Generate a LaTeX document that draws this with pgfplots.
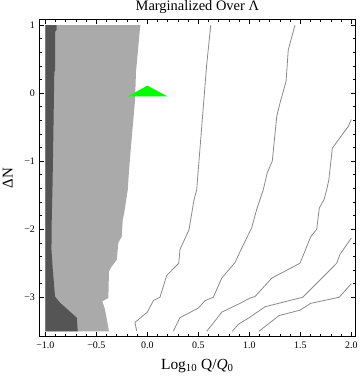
\documentclass[border=0pt]{standalone}
\usepackage{fontspec}
\setmainfont{Liberation Serif}
\usepackage{pgfplots}
\pgfplotsset{compat=1.18}
\definecolor{darkreg}{HTML}{555555}
\definecolor{lightreg}{HTML}{AAAAAA}
\definecolor{contour}{HTML}{8A8A8A}
\begin{document}
\begin{tikzpicture}
\begin{axis}[
  at={(0,0)}, anchor=south west,
  scale only axis, width=316.7bp, height=317.4bp,
  xmin=-1.062, xmax=2.043, ymin=-3.58, ymax=1.084,
  xtick={-1,-0.5,0,0.5,1,1.5,2},
  xticklabels={−1.0,−0.5,0.0,0.5,1.0,1.5,2.0},
  ytick={-3,-2,-1,0,1},
  yticklabels={−3,−2,−1,0,1},
  minor x tick num=4, minor y tick num=4,
  tick align=inside,
  major tick length=5bp, minor tick length=3bp,
  tick style={black, line width=0.5pt},
  axis line style={line width=0.6pt},
  ticklabel style={font=\fontsize{10}{12}\selectfont},
  xticklabel style={anchor=base, yshift=-11.6bp},
  yticklabel style={anchor=east, xshift=-0.5bp},
  title={Marginalized Over Λ},
  every axis title/.style={at={(axis description cs:0.5,1.0268)}, anchor=base, font=\fontsize{14.5}{16}\selectfont},
  xlabel={Log\textsubscript{10} Q/\textit{Q}\textsubscript{0}},
  xlabel style={at={(axis description cs:0.5,-0.1027)}, anchor=base, font=\fontsize{15.5}{17}\selectfont},
  ylabel={ΔN},
  ylabel style={at={(axis description cs:-0.083,0.5)}, anchor=base, font=\fontsize{15}{17}\selectfont},
  axis on top,
  clip=true,
]
% light gray region
\addplot[fill=lightreg, draw=none] coordinates {
 (-1,1) (-0.069,1.0) (-0.088,0.685) (-0.111,0.317) (-0.12,-0.1) (-0.137,-0.39)
 (-0.16,-0.78) (-0.179,-1.13) (-0.192,-1.42) (-0.225,-1.75) (-0.241,-1.86)
 (-0.251,-2.11) (-0.284,-2.20) (-0.30,-2.45) (-0.35,-2.55) (-0.376,-2.62)
 (-0.382,-3.01) (-0.441,-3.06) (-0.415,-3.18) (-0.376,-3.5) (-1,-3.5)
} -- cycle;
% dark gray region
\addplot[fill=darkreg, draw=none] coordinates {
 (-1,1) (-0.888,1.0) (-0.888,0.93) (-0.905,0.90) (-0.905,0.34) (-0.912,0.30)
 (-0.925,-0.98) (-0.93,-1.4) (-0.937,-1.86) (-0.94,-2.3) (-0.927,-2.59)
 (-0.905,-2.99) (-0.856,-3.08) (-0.692,-3.30) (-0.682,-3.5) (-1,-3.5)
} -- cycle;
% contour lines
\addplot[contour, line width=0.8pt] coordinates {
 (0.622,1.0) (0.582,0.416) (0.484,-1.42) (0.458,-1.567) (0.409,-2.007) (0.32,-2.30)
 (0.308,-2.50) (0.19,-2.68) (0.124,-3.0) (0.059,-3.05) (0.0,-3.22) (-0.121,-3.37) (-0.104,-3.50)
};
\addplot[contour, line width=0.8pt] coordinates {
 (1.448,1.0) (1.382,0.636) (1.36,0.17) (1.30,-0.15) (1.269,-0.34) (1.225,-1.0)
 (1.176,-1.17) (1.137,-1.42) (1.072,-1.71) (1.023,-1.98) (0.909,-2.33) (0.86,-2.49)
 (0.729,-2.72) (0.647,-3.0) (0.566,-3.05) (0.5,-3.16) (0.32,-3.30) (0.255,-3.5)
};
\addplot[contour, line width=0.8pt] coordinates {
 (2.0,-0.39) (1.97,-0.49) (1.814,-0.81) (1.78,-1.27) (1.759,-1.42) (1.732,-1.567) (1.686,-1.69)
 (1.661,-2.0) (1.602,-2.11) (1.497,-2.50) (1.22,-2.72) (1.056,-2.99) (1.009,-3.01)
 (0.909,-3.09) (0.729,-3.22) (0.647,-3.38) (0.582,-3.5)
};
\addplot[contour, line width=0.8pt] coordinates {
 (2.0,-2.13) (1.889,-2.37) (1.857,-2.50) (1.524,-3.0) (1.154,-3.14) (1.0,-3.30)
 (0.909,-3.38) (0.892,-3.40) (0.833,-3.5)
};
\addplot[contour, line width=0.8pt] coordinates {
 (2.0,-2.80) (1.882,-3.0) (1.602,-3.09) (1.497,-3.19) (1.291,-3.27) (1.095,-3.5)
};
% green marker
\addplot[fill={rgb,255:red,0;green,255;blue,0}, draw=none] coordinates {
 (-0.19,-0.05) (0.0,0.11) (0.20,-0.05)
} -- cycle;
\end{axis}
\pgfresetboundingbox
\useasboundingbox (-39bp,-41.3bp) rectangle (320.9bp,336.7bp);
\end{tikzpicture}
\end{document}
